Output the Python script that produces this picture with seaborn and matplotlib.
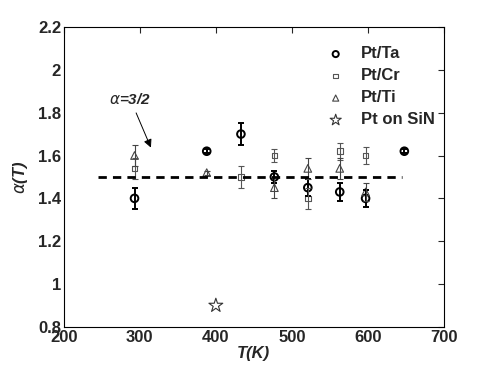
import matplotlib
matplotlib.use("Agg")
import matplotlib.pyplot as plt
import seaborn as sns
import pandas as pd

# datos
t_ta = [293, 388, 433, 477, 521, 563, 597, 648]
a_ta = [1.40, 1.62, 1.70, 1.50, 1.45, 1.43, 1.40, 1.62]
e_ta = [0.05, 0.01, 0.05, 0.03, 0.04, 0.04, 0.04, 0.01]

t_cr = [293, 433, 477, 521, 563, 597]
a_cr = [1.54, 1.50, 1.60, 1.40, 1.62, 1.60]
e_cr = [0.05, 0.05, 0.03, 0.05, 0.04, 0.04]

t_ti = [293, 388, 477, 521, 563, 597]
a_ti = [1.60, 1.52, 1.45, 1.54, 1.54, 1.43]
e_ti = [0.05, 0.01, 0.05, 0.05, 0.05, 0.04]

t_sin = [400]
a_sin = [0.90]

line_t = [245, 645]
line_a = [1.5, 1.5]

sns.set_theme(style="white")
plt.rcParams['font.family'] = ['Liberation Sans', 'DejaVu Sans']

fig = plt.figure(figsize=(4.91, 3.69), dpi=100)
ax = fig.add_axes([0.130, 0.114, 0.774, 0.813])

series = [
    ('Pt/Ta', t_ta, a_ta, e_ta, 'o', 'black', 1.4, 5.5),
    ('Pt/Cr', t_cr, a_cr, e_cr, 's', '#555555', 0.8, 4),
    ('Pt/Ti', t_ti, a_ti, e_ti, '^', '#444444', 0.8, 5.5),
]
for name, t, a, e, m, c, lw, ms in series:
    ax.errorbar(t, a, yerr=e, fmt='none', ecolor=c, elinewidth=lw, capsize=2.5, capthick=lw)
    df = pd.DataFrame({'T': t, 'alpha': a})
    sns.scatterplot(data=df, x='T', y='alpha', marker=m, s=ms ** 2, facecolors='none',
                    edgecolor=c, linewidth=lw, ax=ax, label=name)

df_sin = pd.DataFrame({'T': t_sin, 'alpha': a_sin})
sns.scatterplot(data=df_sin, x='T', y='alpha', marker='*', s=110, facecolors='none',
                edgecolor='#333333', linewidth=0.8, ax=ax, label='Pt on SiN')

sns.lineplot(x=line_t, y=line_a, color='black', linestyle=(0, (3, 2.2)), linewidth=2, ax=ax)

ax.annotate(r'$\alpha$=3/2', xy=(316, 1.625), xytext=(260, 1.84),
            fontsize=11, fontweight='bold', fontstyle='italic',
            arrowprops=dict(arrowstyle='-|>', color='black', lw=0.7, mutation_scale=12))

ax.set_xlim(200, 700)
ax.set_ylim(0.8, 2.2)
ax.set_xticks([200, 300, 400, 500, 600, 700])
ax.set_yticks([0.8, 1, 1.2, 1.4, 1.6, 1.8, 2, 2.2])
ax.set_yticklabels(['0.8', '1', '1.2', '1.4', '1.6', '1.8', '2', '2.2'])
ax.tick_params(direction='in', top=True, right=True, length=4, width=0.8,
               labelsize=12, pad=2)
for lab in ax.get_xticklabels() + ax.get_yticklabels():
    lab.set_fontweight('bold')
for sp in ax.spines.values():
    sp.set_color('black')
    sp.set_linewidth(0.8)

ax.set_xlabel('T(K)', fontsize=12, fontweight='bold', fontstyle='italic', labelpad=1)
ax.set_ylabel(r'$\alpha$(T)', fontsize=12, fontweight='bold', fontstyle='italic', labelpad=6)

leg = ax.legend(loc='upper right', frameon=False, prop={'weight': 'bold', 'size': 12},
                handlelength=1.2, handletextpad=0.9, labelspacing=0.42, markerscale=0.8,
                bbox_to_anchor=(1.015, 0.985))

fig.savefig('out.png', dpi=100)
